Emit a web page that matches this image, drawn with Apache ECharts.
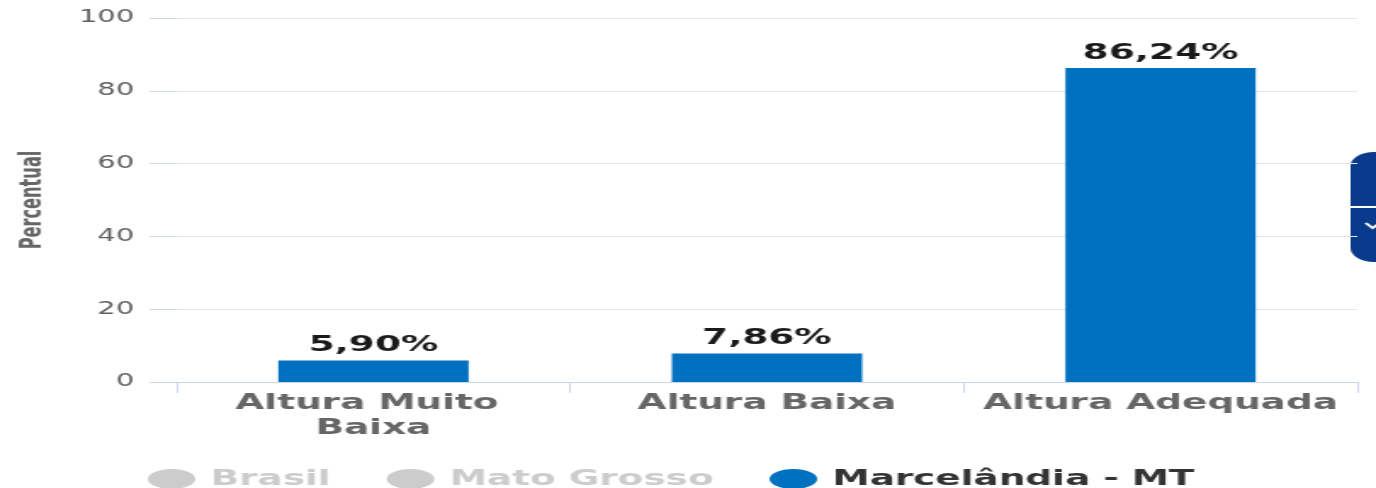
<!DOCTYPE html>
<html>
<head>
<meta charset="utf-8">
<script src="https://cdn.jsdelivr.net/npm/echarts@6/dist/echarts.min.js"></script>
<style>
html,body{margin:0;padding:0;background:#fff;overflow:hidden;}
#wrap{width:1376px;height:488px;overflow:hidden;position:relative;}
#chart{width:810px;height:488px;transform:scaleX(1.69877);transform-origin:0 0;position:absolute;left:0;top:0;}
</style>
</head>
<body>
<div id="wrap"><div id="chart"></div></div>
<script>
const categories = ['Altura Muito Baixa', 'Altura Baixa', 'Altura Adequada'];
const seriesNames = ['Brasil', 'Mato Grosso', 'Marcelândia - MT'];
const brasilValues = [];
const matoGrossoValues = [];
const marcelandiaValues = [5.90, 7.86, 86.24];
const yTicks = [0, 20, 40, 60, 80, 100];

const chart = echarts.init(document.getElementById('chart'));
const fmt = v => v.toFixed(2).replace('.', ',') + '%';
const labelCfg = {
  show: true, position: 'top', distance: 4,
  fontFamily: 'DejaVu Sans', fontWeight: 'bold', fontSize: 22, color: '#1a1a1a',
  formatter: p => fmt(p.value)
};
chart.setOption({
  animation: false,
  grid: { left: 104, right: 11, top: 18, bottom: 106, outerBoundsMode: 'none' },
  legend: {
    left: 82, top: 463,
    icon: 'path://M0,10 A14,10 0 1,0 28,10 A14,10 0 1,0 0,10 Z',
    itemWidth: 28, itemHeight: 20, itemGap: 33,
    selected: { 'Brasil': false, 'Mato Grosso': false },
    inactiveColor: '#cccccc',
    textStyle: { fontFamily: 'DejaVu Sans', fontWeight: 'bold', fontSize: 22, color: '#333333', padding: [0, 0, 0, 4] },
    data: seriesNames
  },
  xAxis: {
    type: 'category', data: categories,
    axisLine: { show: true, lineStyle: { color: '#ccd6eb', width: 1 } },
    axisTick: { show: true, length: 11, lineStyle: { color: '#ccd6eb' } },
    axisLabel: {
      interval: 0, margin: 9, width: 215, overflow: 'break', lineHeight: 25,
      fontFamily: 'DejaVu Sans', fontWeight: 'bold', fontSize: 22, color: '#666666'
    }
  },
  yAxis: {
    type: 'value', min: yTicks[0], max: yTicks[yTicks.length - 1], interval: 20,
    name: 'Percentual', nameLocation: 'middle', nameGap: 76,
    nameTextStyle: { fontFamily: "'Liberation Sans Narrow', 'DejaVu Sans Condensed', Roboto", fontWeight: 'bold', fontSize: 18, color: '#666666' },
    axisLine: { show: false },
    axisTick: { show: true, length: 16, lineStyle: { color: '#ccd6eb' } },
    axisLabel: { margin: 25, fontFamily: 'DejaVu Sans', fontSize: 17, color: '#5e5e5e' },
    splitLine: { show: true, lineStyle: { color: '#e6e6e6', width: 1 } }
  },
  series: [
    { name: seriesNames[0], type: 'bar', data: brasilValues, itemStyle: { color: '#a0a0a0' }, barWidth: 112, label: labelCfg },
    { name: seriesNames[1], type: 'bar', data: matoGrossoValues, itemStyle: { color: '#a0a0a0' }, barWidth: 112, label: labelCfg },
    { name: seriesNames[2], type: 'bar', data: marcelandiaValues, itemStyle: { color: '#0070c0' }, barWidth: 112, label: labelCfg }
  ],
  graphic: [
    { type: 'rect', left: 795, top: 152, shape: { width: 20, height: 110, r: [14, 0, 0, 14] }, style: { fill: '#0a3a8c' } },
    { type: 'line', shape: { x1: 795, y1: 207, x2: 815, y2: 207 }, style: { stroke: '#ffffff', lineWidth: 2 } },
    { type: 'polyline', shape: { points: [[804, 223], [808, 228], [812, 223]] }, style: { stroke: '#ffffff', lineWidth: 2, fill: null } }
  ]
});
</script>
</body>
</html>
